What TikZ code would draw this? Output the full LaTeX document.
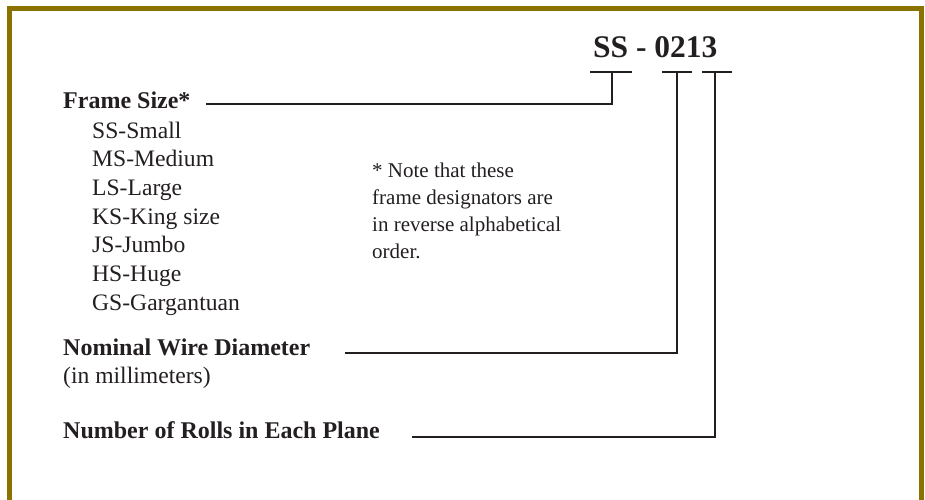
\documentclass[tikz,border=0pt]{standalone}
\usepackage{fontspec}
\setmainfont{Liberation Serif}
\definecolor{ink}{HTML}{231F20}
\definecolor{frameolive}{RGB}{138,114,0}
\begin{document}
\begin{tikzpicture}[x=1pt,y=1pt,
  lbl/.style={anchor=base west,inner sep=0pt,text=ink,font=\fontsize{24}{28}\selectfont\bfseries},
  sub/.style={anchor=base west,inner sep=0pt,text=ink,font=\fontsize{23.6}{28}\selectfont},
  note/.style={anchor=base west,inner sep=0pt,text=ink,font=\fontsize{21}{27}\selectfont},
  code/.style={anchor=base west,inner sep=0pt,text=ink,font=\fontsize{31.5}{36}\selectfont\bfseries},
  lead/.style={draw=ink,line width=2pt}]
\useasboundingbox (0,0) rectangle (925,-499);
\draw[line width=5pt,color=frameolive] (9.5,-510) -- (9.5,-8.5) -- (921.5,-8.5) -- (921.5,-510);

% code
\node[code] (code) at (593,-57) {SS - 0213};

% labels
\node[lbl] (fs) at (63,-108) {Frame Size*};
\node[sub] (s1) at (92,-138) {SS-Small};
\node[sub] (s2) at (92,-166.7) {MS-Medium};
\node[sub] (s3) at (92,-195.4) {LS-Large};
\node[sub] (s4) at (92,-224.1) {KS-King size};
\node[sub] (s5) at (92,-252.8) {JS-Jumbo};
\node[sub] (s6) at (92,-281.5) {HS-Huge};
\node[sub] (s7) at (92,-310.2) {GS-Gargantuan};

\node[lbl] (nw) at (63,-355) {Nominal Wire Diameter};
\node[sub] (mm) at (63,-383) {(in millimeters)};
\node[lbl] (nr) at (63,-438) {Number of Rolls in Each Plane};

% note
\node[note] (n1) at (372,-177) {* Note that these};
\node[note] (n2) at (372,-204) {frame designators are};
\node[note] (n3) at (372,-231) {in reverse alphabetical};
\node[note] (n4) at (372,-258) {order.};

% bracket coordinates
\coordinate (b1l) at (590,-72);
\coordinate (b1r) at (632,-72);
\coordinate (b1m) at (612,-72);
\coordinate (b1b) at (612,-104);
\coordinate (fsend) at (206,-104);

\coordinate (b2l) at (662,-72);
\coordinate (b2r) at (692,-72);
\coordinate (b2m) at (677,-72);
\coordinate (b2b) at (677,-353);
\coordinate (nwend) at (345,-353);

\coordinate (b3l) at (702,-72);
\coordinate (b3r) at (732,-72);
\coordinate (b3m) at (715,-72);
\coordinate (b3b) at (715,-437);
\coordinate (nrend) at (412,-437);

\draw[lead] (b1l) -- (b1r);
\draw[lead] (fsend) -- (b1b) -- (b1m);
\draw[lead] (b2l) -- (b2r);
\draw[lead] (nwend) -- (b2b) -- (b2m);
\draw[lead] (b3l) -- (b3r);
\draw[lead] (nrend) -- (b3b) -- (b3m);
\end{tikzpicture}
\end{document}
